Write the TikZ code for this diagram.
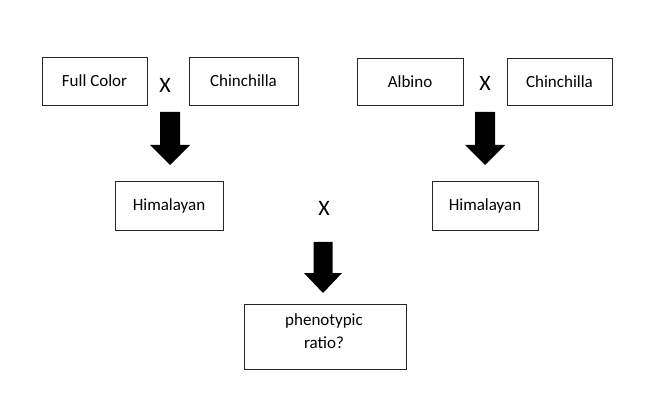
\documentclass[tikz,border=0pt]{standalone}
\usepackage{fontspec}
\setmainfont{Carlito}
\begin{document}
\begin{tikzpicture}[x=1pt,y=-1pt,
  box/.style={draw=black!85,line width=0.9pt,inner sep=0pt,align=center,font=\fontsize{17}{23}\selectfont},
  cross/.style={inner sep=0pt,font=\fontsize{22}{24}\selectfont},
  blockarr/.style={fill=black}]
\useasboundingbox (0,0) rectangle (648,414);
\node[box,minimum width=105,minimum height=48] (fc) at (94.5,81) {Full Color};
\node[box,minimum width=109,minimum height=48] (ch1) at (243.5,81) {Chinchilla};
\node[cross] (x1) at (165,85) {X};
\node[box,minimum width=106,minimum height=47] (al) at (410,81.5) {Albino};
\node[box,minimum width=105,minimum height=47] (ch2) at (559.5,81.5) {Chinchilla};
\node[cross] (x2) at (485,83) {X};
\node[box,minimum width=108,minimum height=49] (h1) at (169,205.5) {Himalayan};
\node[box,minimum width=106,minimum height=49] (h2) at (485,205.5) {Himalayan};
\node[cross] (x3) at (324,208) {X};
\node[box,minimum width=162,minimum height=65] (pr) at (325,336.5) {};
\node[inner sep=0pt,font=\fontsize{17}{23}\selectfont,align=center] (prt) at (324,331.5) {phenotypic\\ratio?};
\coordinate (a1) at (170,112);
\coordinate (a2) at (485,112);
\coordinate (a3) at (323,242);
\foreach \c in {a1,a2}{
  \fill[blockarr] (\c) ++(-10,0) -- ++(20,0) -- ++(0,33) -- ++(10,0) -- ++(-20,20) -- ++(-20,-20) -- ++(10,0) -- cycle;
}
\fill[blockarr] (a3) ++(-9.5,0) -- ++(19,0) -- ++(0,31) -- ++(9.5,0) -- ++(-19,20) -- ++(-19,-20) -- ++(9.5,0) -- cycle;
\end{tikzpicture}
\end{document}
